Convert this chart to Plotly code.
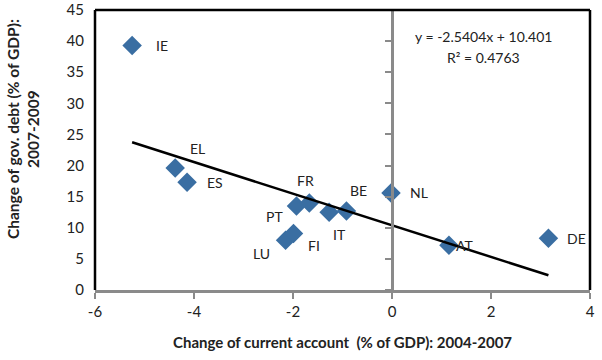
import plotly.graph_objects as go

countries = ["IE", "EL", "ES", "PT", "FR", "IT", "BE", "NL", "LU", "FI", "AT", "DE"]
ca_change = [-5.25, -4.38, -4.14, -1.93, -1.67, -1.27, -0.92, -0.02, -2.15, -1.99, 1.15, 3.16]
debt_change = [39.3, 19.6, 17.3, 13.5, 14.0, 12.5, 12.7, 15.6, 8.0, 9.1, 7.2, 8.3]
slope = -2.5404
intercept = 10.401
r2 = 0.4763
x_ticks = [-6, -4, -2, 0, 2, 4]
x_tick_text = ["-6", "-4", "-2", "0", "2", "4"]
y_ticks = [0, 5, 10, 15, 20, 25, 30, 35, 40, 45]
x_title = "Change of current account  (% of GDP): 2004-2007"
y_title = "Change of gov. debt (% of GDP):<br>2007-2009"

# label offsets (pixels) relative to each point
label_dx = [30, 22, 28, -22, -4, 10, 12, 28, -24, 20, 16, 28]
label_dy = [0, -20, 0, 10, -22, 22, -20, 0, 13, 12, 0, 0]

FONT = "Lato, 'Open Sans', sans-serif"

fig = go.Figure()

x0, x1 = min(ca_change), max(ca_change)
fig.add_trace(go.Scatter(
    x=[x0, x1], y=[slope * x0 + intercept, slope * x1 + intercept],
    mode="lines", line=dict(color="black", width=2.5),
    yaxis="y2", hoverinfo="skip", showlegend=False))

fig.add_trace(go.Scatter(
    x=ca_change, y=debt_change, mode="markers",
    marker=dict(symbol="diamond", size=15, color="#3A6EA2"),
    showlegend=False))

for c, xv, yv, dx, dy in zip(countries, ca_change, debt_change, label_dx, label_dy):
    fig.add_annotation(x=xv, y=yv, text=c, showarrow=False, xshift=dx, yshift=-dy,
                       font=dict(family=FONT, size=14, color="#222"))

fig.add_annotation(xref="paper", yref="paper", x=0.785, y=0.905, xanchor="center",
                   yanchor="middle", text=f"y = {slope}x + {intercept}",
                   showarrow=False, font=dict(family=FONT, size=14, color="#222"))
fig.add_annotation(xref="paper", yref="paper", x=0.785, y=0.83, xanchor="center",
                   yanchor="middle", text=f"R² = {r2}",
                   showarrow=False, font=dict(family=FONT, size=14, color="#222"))

# axis titles
fig.add_annotation(xref="paper", yref="paper", x=0.5, y=0, yshift=-52,
                   xanchor="center", yanchor="middle", text=f"<b>{x_title}</b>",
                   showarrow=False, font=dict(family=FONT, size=15, color="#222"))
fig.add_annotation(xref="paper", yref="paper", x=0, xshift=-72, y=0.575,
                   xanchor="center", yanchor="middle", textangle=-90,
                   text=f"<b>{y_title}</b>",
                   showarrow=False, font=dict(family=FONT, size=15.5, color="#222"))

# plot frame: left, top, right black
for sx0, sy0, sx1, sy1 in [(0, 0, 0, 1), (0, 1, 1, 1), (1, 0, 1, 1)]:
    fig.add_shape(type="line", xref="paper", yref="paper", x0=sx0, y0=sy0, x1=sx1, y1=sy1,
                  line=dict(color="black", width=2.5))

fig.update_layout(
    width=602, height=360,
    margin=dict(l=95, r=12, t=10, b=70),
    plot_bgcolor="white", paper_bgcolor="white",
    font=dict(family=FONT, size=15, color="#222"),
    xaxis=dict(range=[-6, 4], tickvals=x_ticks, ticktext=x_tick_text,
               showgrid=False, zeroline=False, automargin=False,
               showline=True, linecolor="#8a8a8a", linewidth=2.5,
               ticks="outside", ticklen=6, tickwidth=2, tickcolor="#8a8a8a",
               ticklabeloverflow="allow",
               tickfont=dict(size=15, family=FONT, color="#222")),
    yaxis=dict(range=[0, 45], tickvals=y_ticks, showgrid=False, zeroline=False,
               showline=False, ticks="", ticklabelstandoff=10, automargin=False,
               ticklabeloverflow="allow",
               tickfont=dict(size=15, family=FONT, color="#222")),
    yaxis2=dict(range=[0, 45], tickvals=y_ticks, overlaying="y", anchor="free",
                position=0.6, side="left", showgrid=False, zeroline=False,
                automargin=False,
                showline=True, linecolor="#8a8a8a", linewidth=2.5,
                ticks="outside", ticklen=6, tickwidth=2, tickcolor="#8a8a8a",
                showticklabels=False),
)

fig.write_html("out.html", config={"displayModeBar": False},
               post_script="document.body.style.margin='0';")
